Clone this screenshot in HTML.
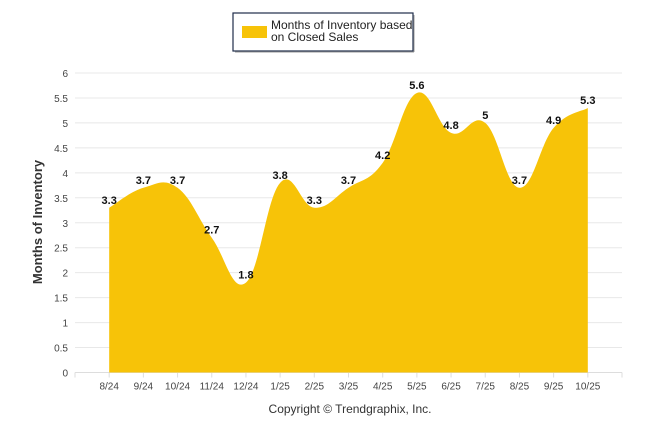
<!DOCTYPE html>
<html><head><meta charset="utf-8"><style>
body{margin:0;background:#fff;font-family:"Liberation Sans",Arial,sans-serif;}
svg{display:block}
</style></head><body>
<svg id="c" width="646" height="434">
<rect x="233" y="13" width="180" height="38" fill="#fff" stroke="#1f2d4a" stroke-width="1.2"/>
<line x1="235" y1="52" x2="414" y2="52" stroke="#999" stroke-width="1"/>
<line x1="414" y1="15" x2="414" y2="52" stroke="#999" stroke-width="1"/>
<rect x="242" y="26" width="25" height="12" fill="#f7c308"/>
<text x="271" y="29" font-size="12" fill="#222">Months of Inventory based</text>
<text x="271" y="41" font-size="12" fill="#222">on Closed Sales</text>
<g id="grid"></g>
<path id="area" fill="#f7c308"/>
<g id="labels"></g>
<text transform="translate(42,222) rotate(-90)" text-anchor="middle" font-size="13" font-weight="bold" fill="#333">Months of Inventory</text>
<text x="350" y="413" text-anchor="middle" font-size="12" fill="#333">Copyright © Trendgraphix, Inc.</text>
</svg>
<script>
const categories=["8/24","9/24","10/24","11/24","12/24","1/25","2/25","3/25","4/25","5/25","6/25","7/25","8/25","9/25","10/25"];
const values=[3.3,3.7,3.7,2.7,1.8,3.8,3.3,3.7,4.2,5.6,4.8,5,3.7,4.9,5.3];
const yTicks=[0,0.5,1,1.5,2,2.5,3,3.5,4,4.5,5,5.5,6];
const L=75,R=622,Y0=372.5,Y6=73;
const step=(R-L)/(categories.length+1);
const xs=i=>L+step*(i+1);
const ys=v=>Y0-(v/6)*(Y0-Y6);
const NS="http://www.w3.org/2000/svg";
const g=document.getElementById('grid');
function mk(t,a,p){const e=document.createElementNS(NS,t);for(const k in a)e.setAttribute(k,a[k]);p.appendChild(e);return e;}
yTicks.forEach(t=>{
 const l=mk('line',{x1:L,x2:R,y1:ys(t),y2:ys(t),stroke:t===0?'#ddd':'#e8e8e8'},g);
 
 
 const tx=mk('text',{x:L-7,y:ys(t)+4,'text-anchor':'end','font-size':'10',fill:'#444'},g);
 tx.textContent=t;
 
 
});
for(let i=0;i<=categories.length+1;i++){
 if(i===0||i===categories.length+1){mk('line',{x1:L+step*i,x2:L+step*i,y1:Y0,y2:Y0+5,stroke:'#ddd'},g);}
}
categories.forEach((c,i)=>{
 mk('line',{x1:xs(i),x2:xs(i),y1:Y0,y2:Y0+5,stroke:'#ddd'},g);
 const tx=mk('text',{x:xs(i),y:Y0+17,'text-anchor':'middle','font-size':'10',fill:'#444'},g);
 tx.textContent=c;
 
 
});
// smooth path (catmull-rom)
const P=values.map((v,i)=>[xs(i),ys(v)]);
let d=`M${P[0][0]},${Y0} L${P[0][0]},${P[0][1]}`;
for(let i=0;i<P.length-1;i++){
 const p0=P[Math.max(0,i-1)],p1=P[i],p2=P[i+1],p3=P[Math.min(P.length-1,i+2)];
 const t=0.2;
 const c1=[p1[0]+(p2[0]-p0[0])*t,p1[1]+(p2[1]-p0[1])*t];
 const c2=[p2[0]-(p3[0]-p1[0])*t,p2[1]-(p3[1]-p1[1])*t];
 d+=` C${c1[0]},${c1[1]} ${c2[0]},${c2[1]} ${p2[0]},${p2[1]}`;
}
d+=` L${P[P.length-1][0]},${Y0} Z`;
document.getElementById('area').setAttribute('d',d);
const lg=document.getElementById('labels');
values.forEach((v,i)=>{
 const tx=mk('text',{x:xs(i),y:ys(v)-4,'text-anchor':'middle','font-size':'11','font-weight':'bold',fill:'#111'},lg);
 tx.textContent=v;
 
 
});
</script>
</body></html>
